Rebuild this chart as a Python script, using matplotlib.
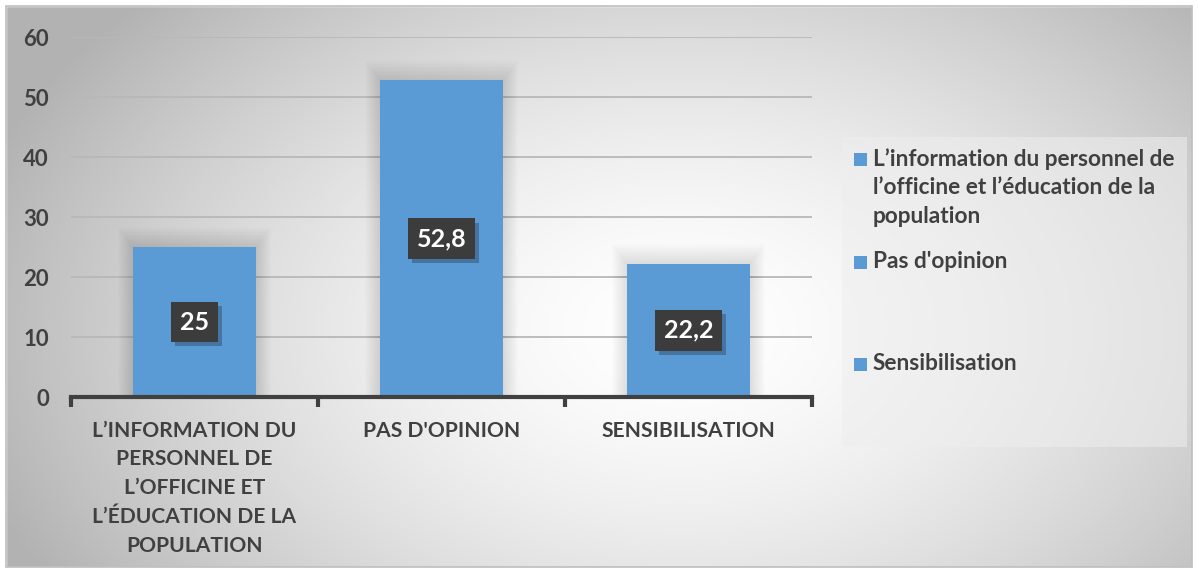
import numpy as np
import matplotlib
matplotlib.use("Agg")
import matplotlib.pyplot as plt
from matplotlib.patches import Rectangle
import matplotlib.patheffects as pe

plt.rcParams['font.family'] = ['Lato', 'DejaVu Sans']

# Data
categories = ["L’INFORMATION DU\nPERSONNEL DE\nL’OFFICINE ET\nL’ÉDUCATION DE LA\nPOPULATION",
              "PAS D'OPINION",
              "SENSIBILISATION"]
legend_labels = ["L’information du personnel de\nl’officine et l’éducation de la\npopulation",
                 "Pas d'opinion",
                 "Sensibilisation"]
values = [25, 52.8, 22.2]
value_labels = ["25", "52,8", "22,2"]
yticks = [0, 10, 20, 30, 40, 50, 60]

BAR = '#5B9BD5'
TXT = '#404040'

W, H = 1198, 572
fig = plt.figure(figsize=(W / 100, H / 100), dpi=100)

# Background: radial gray gradient inside a thin frame
bg = fig.add_axes([0, 0, 1, 1], zorder=-10)
yy, xx = np.mgrid[0:H, 0:W]
r = np.sqrt(((xx - 680) / 640.0) ** 2 + ((yy - 330) / 420.0) ** 2)
v = 1.0 - 0.24 * np.clip(r, 0, 1.15) ** 1.6
img = np.dstack([v, v, v])
bg.imshow(img, extent=[0, W, H, 0], aspect='auto', interpolation='bilinear')
bg.add_patch(Rectangle((0, 0), W, 6, color='white'))
bg.add_patch(Rectangle((0, H - 5), W, 5, color='white'))
bg.add_patch(Rectangle((0, 0), 6, H, color='white'))
bg.add_patch(Rectangle((W - 6, 0), 6, H, color='white'))
bg.add_patch(Rectangle((6, 6), W - 12, H - 11, fill=False, ec='#bdbdbd', lw=1.2))
bg.set_xlim(0, W)
bg.set_ylim(H, 0)
bg.axis('off')

# Main plot area
ax = fig.add_axes([71 / W, 1 - 397 / H, (812 - 71) / W, (397 - 37) / H])
ax.set_facecolor('none')
x = np.arange(len(values))
width = 0.5

# soft shadow around the bar tops
for i in range(1, 16):
    ax.bar(x, np.array(values) + i * 0.22, width=width + i * 0.008, color='black',
           alpha=0.009, zorder=1, linewidth=0)
ax.bar(x, values, width=width, color=BAR, zorder=2, linewidth=0)

ax.set_xlim(-0.5, 2.5)
ax.set_ylim(0, 60)
ax.set_yticks(yticks)
ax.set_yticklabels([str(t) for t in yticks], fontsize=16, fontweight='bold', color=TXT)
ax.tick_params(axis='y', length=0, pad=16)
ax.yaxis.grid(True, color='#b8b8b8', lw=1.3)
ax.set_axisbelow(True)

ax.set_xticks(x)
ax.set_xticklabels(categories, fontsize=15.1, fontweight='bold', color=TXT,
                   linespacing=1.55, va='top')
ax.set_xticks([-0.5, 0.5, 1.5, 2.5], minor=True)
ax.tick_params(axis='x', which='major', length=0, pad=17)
ax.tick_params(axis='x', which='minor', length=7, width=3, color=TXT, direction='out')

for s in ['top', 'right', 'left']:
    ax.spines[s].set_visible(False)
ax.spines['bottom'].set_color(TXT)
ax.spines['bottom'].set_linewidth(3)
ax.spines['bottom'].set_zorder(5)

# value labels centred in each bar, on a dark box with a drop shadow
for xi, v_, lab in zip(x, values, value_labels):
    t = ax.text(xi, v_ / 2, lab, ha='center', va='center', fontsize=18,
                fontweight='bold', color='white', zorder=4,
                bbox=dict(boxstyle='square,pad=0.35', fc='#3c3c3c', ec='none'))
    t.get_bbox_patch().set_path_effects([
        pe.SimplePatchShadow(offset=(3, -3), shadow_rgbFace='black', alpha=0.25),
        pe.Normal()])

# Legend panel
fig.patches.append(Rectangle((842 / W, 1 - 447 / H), (1187 - 842) / W, (447 - 137) / H,
                             transform=fig.transFigure, fc='#eeeeee', ec='none', alpha=0.55))
entry_y = [160, 263, 365]
for lab, ey in zip(legend_labels, entry_y):
    fig.patches.append(Rectangle((854 / W, 1 - (ey + 6) / H), 13 / W, 13 / H,
                                 transform=fig.transFigure, fc=BAR, ec='none'))
    fig.text(873 / W, 1 - (ey - 12) / H, lab, ha='left', va='top', fontsize=16.3,
             fontweight='bold', color=TXT, linespacing=1.44)

fig.savefig('out.png', dpi=100)
